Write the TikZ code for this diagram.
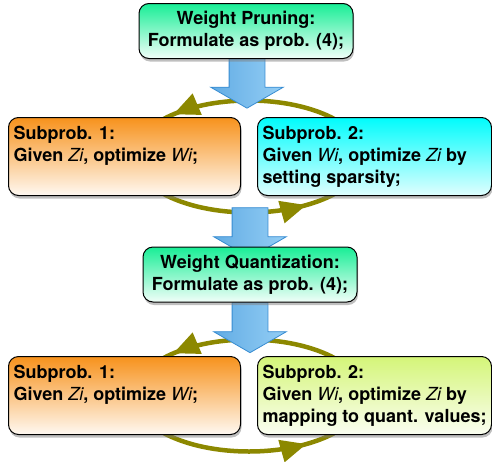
\documentclass[tikz,border=0pt]{standalone}
\usepackage{fontspec}
\setmainfont{TeX Gyre Heros}
\usetikzlibrary{calc,shapes.arrows,shadows,arrows.meta,decorations.markings,backgrounds}

\definecolor{boxgreen}{RGB}{24,238,150}
\definecolor{boxorange}{RGB}{247,146,28}
\definecolor{boxcyan}{RGB}{0,252,252}
\definecolor{boxlime}{RGB}{212,245,120}
\definecolor{loopolive}{RGB}{140,136,0}
\definecolor{arrowedge}{RGB}{55,140,210}
\definecolor{arrowleft}{RGB}{98,172,228}
\definecolor{arrowright}{RGB}{148,206,245}

\newcommand{\subtext}[2]{\parbox[t][60pt][t]{#1}{\raggedright #2}}
\newcommand{\vname}[1]{{\normalfont\itshape #1}}

\tikzset{
  boxfont/.style={font=\fontsize{18}{22}\selectfont\bfseries},
  mainbox/.style={boxfont, draw=black, line width=1pt, rounded corners=10pt,
    align=center, minimum width=214pt, minimum height=55pt,
    top color=boxgreen, bottom color=boxgreen!6,
    drop shadow={shadow xshift=1pt, shadow yshift=-3pt, opacity=0.5}},
  subbox/.style={boxfont, draw=black, line width=1pt, rounded corners=10pt,
    anchor=north west, inner xsep=5pt, inner ysep=9pt,
    drop shadow={shadow xshift=1pt, shadow yshift=-3pt, opacity=0.5}},
  cycleloop/.style={draw=loopolive, line width=4.5pt, postaction={decorate},
    decoration={markings,
      mark=at position 0.39 with {\arrow{Triangle[length=26pt,width=22pt]}},
      mark=at position 0.855 with {\arrow{Triangle[length=26pt,width=22pt]}}}},
  bigarrow/.style={single arrow, shape border rotate=270, draw=arrowedge,
    line width=0.8pt, inner sep=17.5pt, minimum height=50pt, minimum width=72pt,
    single arrow head extend=18.5pt, single arrow tip angle=120,
    left color=arrowleft, right color=arrowright}
}

\begin{document}
\begin{tikzpicture}[x=1pt,y=-1pt]
  \useasboundingbox (0,0) rectangle (492,461);

  % pruning stage
  \node[mainbox] (prune) at (246,31) {Weight Pruning:\\Formulate as prob. (4);};
  \node[subbox, top color=boxorange, bottom color=boxorange!6] (sub1a) at (8,117)
    {\subtext{222pt}{Subprob. 1:\\Given \vname{Zi}, optimize \vname{Wi};}};
  \node[subbox, top color=boxcyan, bottom color=boxcyan!12] (sub2a) at (257,117)
    {\subtext{224pt}{Subprob. 2:\\Given \vname{Wi}, optimize \vname{Zi} by\\setting sparsity;}};

  % quantization stage
  \node[mainbox] (quant) at (250,274.5) {Weight Quantization:\\Formulate as prob. (4);};
  \node[subbox, top color=boxorange, bottom color=boxorange!6] (sub1b) at (8,356)
    {\subtext{222pt}{Subprob. 1:\\Given \vname{Zi}, optimize \vname{Wi};}};
  \node[subbox, top color=boxlime, bottom color=boxlime!10] (sub2b) at (257,356)
    {\subtext{224pt}{Subprob. 2:\\Given \vname{Wi}, optimize \vname{Zi} by\\mapping to quant. values;}};

  \begin{scope}[on background layer]
    \draw[cycleloop] ($(sub1a.east)!0.5!(sub2a.west)$) ++(115,0)
      arc[start angle=0, end angle=-360, x radius=115, y radius=56];
    \draw[cycleloop] ($(sub1b.east)!0.5!(sub2b.west)$) ++(115,0)
      arc[start angle=0, end angle=-360, x radius=115, y radius=56];
    \node[bigarrow] (drop1) at ($(prune.south)+(1,19)$) {};
    \node[bigarrow] (drop2) at ($(quant.north)+(0,-19)$) {};
    \node[bigarrow] (drop3) at ($(quant.south)+(0,20)$) {};
  \end{scope}
\end{tikzpicture}
\end{document}
